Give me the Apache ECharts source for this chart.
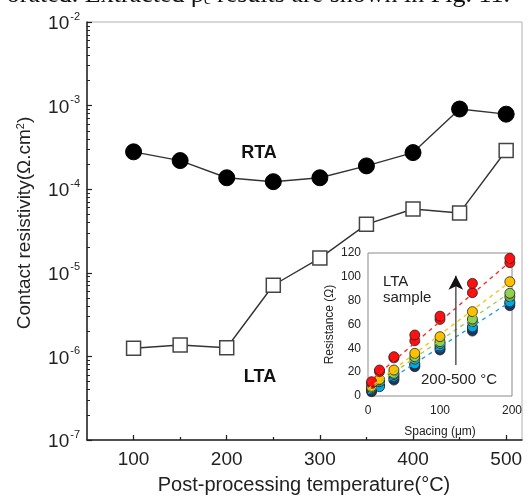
<!DOCTYPE html>
<html>
<head>
<meta charset="utf-8">
<script src="https://cdn.jsdelivr.net/npm/echarts@6/dist/echarts.min.js"></script>
<style>
  html, body { margin: 0; padding: 0; background: #fff; }
  #chart { width: 527px; height: 498px; }
</style>
</head>
<body>
<div id="chart"></div>
<script>
// Post-processing temperature (°C)
const temperatures = [100, 150, 200, 250, 300, 350, 400, 450, 500];
// Contact resistivity (Ω·cm²)
const rtaValues = [2.8e-4, 2.2e-4, 1.37e-4, 1.23e-4, 1.37e-4, 1.9e-4, 2.74e-4, 9.1e-4, 7.9e-4];
const ltaValues = [1.25e-6, 1.37e-6, 1.27e-6, 7.1e-6, 1.5e-5, 3.8e-5, 5.8e-5, 5.2e-5, 2.9e-4];

// Main axis ticks
const xMajorTicks = [100, 200, 300, 400, 500];
const xMinorTicks = [150, 250, 350, 450];
const yDecades = [1e-7, 1e-6, 1e-5, 1e-4, 1e-3, 1e-2];

// Inset: TLM resistance vs. spacing (LTA sample)
const spacing = [5, 16, 36, 65, 100, 145, 197];
const r200 = [3.6, 9, 13.4, 24.6, 38.6, 54.5, 75.8];
const r250 = [4.5, 10, 15, 26, 40, 56.8, 77.8];
const r300 = [5.5, 7.8, 16.5, 27, 42, 58, 79];
const r350 = [6.4, 12, 18, 31, 44, 62.4, 83.3];
const r400 = [7, 13.4, 19, 33, 45.6, 64.6, 86.2];
const r450 = [8, 14, 21.8, 35.8, 49.8, 70.8, 95.9];
const r500a = [10.6, 20.5, 32, 46.4, 64.3, 86.7, 111.9];
const r500b = [12, 21.8, 33, 51.2, 67, 94.5, 115.5];
// Dashed fit lines: resistance at spacing 0 and 200 µm
const fitSpan = [0, 200];
const fitRed = [11, 114];
const fitGold = [6, 97];
const fitGreen = [5, 88];
const fitBlue = [2, 80];
// Arrow (spacing, resistance) from tail to head
const arrowX = [122, 122];
const arrowY = [26, 101];

const pair = (xs, ys) => xs.map((x, i) => [x, ys[i]]);

// Minor log ticks 2..9 within each decade
const yMinor = [];
for (let d = 0; d < yDecades.length - 1; d++) {
  for (let k = 2; k <= 9; k++) yMinor.push(k * yDecades[d]);
}

const chart = echarts.init(document.getElementById('chart'));
const FONT = '"Liberation Sans", Arial, sans-serif';

function insetDots(vals, color, z) {
  return {
    type: 'scatter', xAxisIndex: 2, yAxisIndex: 2, z: z || 12,
    data: pair(spacing, vals), symbol: 'circle', symbolSize: 10,
    itemStyle: { color: color, borderColor: '#222', borderWidth: 0.8, opacity: 1 },
    silent: true
  };
}
function fitLine(vals, color) {
  return {
    type: 'line', xAxisIndex: 2, yAxisIndex: 2, z: 13,
    data: pair(fitSpan, vals), symbol: 'none',
    lineStyle: { color: color, width: 1.3, type: [4, 4] }, silent: true
  };
}

const option = {
  animation: false,
  backgroundColor: '#fff',
  grid: [
    { left: 87, top: 22, right: 5, bottom: 58, show: true, borderColor: '#b0b0b0', borderWidth: 1, backgroundColor: 'transparent' },
    { left: 87, top: 22, right: 5, bottom: 58 },
    { left: 368, top: 253, width: 144, height: 143, show: true, borderColor: '#8a8a8a', borderWidth: 1, backgroundColor: '#fff', z: 10 }
  ],
  xAxis: [
    {
      type: 'value', gridIndex: 0, min: 50, max: 517, interval: 50,
      axisLine: { show: true, lineStyle: { color: '#222', width: 1.5 } },
      axisTick: { show: true, inside: true, length: 5, customValues: xMajorTicks, lineStyle: { color: '#222', width: 1.3 } },
      axisLabel: { show: true, customValues: xMajorTicks, margin: 10, fontSize: 19, color: '#222', fontFamily: FONT },
      splitLine: { show: false }
    },
    {
      type: 'value', gridIndex: 1, min: 50, max: 517, interval: 50,
      axisLine: { show: false },
      axisTick: { show: true, inside: true, length: 3, customValues: xMinorTicks, lineStyle: { color: '#222', width: 1.3 } },
      axisLabel: { show: false },
      splitLine: { show: false }
    },
    {
      type: 'value', gridIndex: 2, min: 0, max: 200, interval: 100, z: 11,
      axisLine: { show: false },
      axisTick: { show: false },
      axisLabel: { fontSize: 12, color: '#222', margin: 9, fontFamily: FONT },
      splitLine: { show: false },
      name: 'Spacing (μm)', nameLocation: 'middle', nameGap: 30,
      nameTextStyle: { fontSize: 12, color: '#222', fontFamily: FONT }
    }
  ],
  yAxis: [
    {
      type: 'log', gridIndex: 0, min: 1e-7, max: 1e-2, logBase: 10,
      axisLine: { show: true, lineStyle: { color: '#222', width: 1.5 } },
      axisTick: { show: true, inside: true, length: 5, lineStyle: { color: '#222', width: 1.2 } },
      axisLabel: {
        margin: 7, color: '#222', fontFamily: FONT,
        formatter: v => '{b|10}{s|' + Math.round(Math.log10(v)) + '}',
        rich: {
          b: { fontSize: 19, fontFamily: FONT, color: '#222', lineHeight: 22, padding: [4, 0, 0, 0] },
          s: { fontSize: 11, fontFamily: FONT, color: '#222', verticalAlign: 'top', lineHeight: 12, padding: [0, 0, 6, 1] }
        }
      },
      splitLine: { show: false }
    },
    {
      type: 'log', gridIndex: 1, min: 1e-7, max: 1e-2, logBase: 10,
      axisLine: { show: false },
      axisTick: { show: true, inside: true, length: 3, customValues: yMinor, lineStyle: { color: '#222', width: 1 } },
      axisLabel: { show: false },
      splitLine: { show: false }
    },
    {
      type: 'value', gridIndex: 2, min: 0, max: 120, interval: 20, z: 11,
      axisLine: { show: false },
      axisTick: { show: false },
      axisLabel: { fontSize: 12, color: '#222', margin: 7, fontFamily: FONT },
      splitLine: { show: false },
      name: 'Resistance (Ω)', nameLocation: 'middle', nameGap: 32,
      nameTextStyle: { fontSize: 12, color: '#222', fontFamily: FONT }
    }
  ],
  series: [
    {
      name: 'RTA', type: 'line', xAxisIndex: 0, yAxisIndex: 0,
      data: pair(temperatures, rtaValues), symbol: 'circle', symbolSize: 16,
      lineStyle: { color: '#333', width: 1.4 },
      itemStyle: { color: '#000', borderColor: '#000', borderWidth: 1 }
    },
    {
      name: 'LTA', type: 'line', xAxisIndex: 0, yAxisIndex: 0,
      data: pair(temperatures, ltaValues), symbol: 'rect', symbolSize: 14,
      lineStyle: { color: '#333', width: 1.4 },
      itemStyle: { color: '#fff', borderColor: '#444', borderWidth: 1.5 }
    },
    insetDots(r200, '#1f3864'),
    insetDots(r250, '#0060b0'),
    insetDots(r300, '#00a8e8'),
    insetDots(r350, '#70ad47'),
    insetDots(r400, '#92d050'),
    insetDots(r450, '#ffc000'),
    insetDots(r500a, '#ff1010'),
    insetDots(r500b, '#ff1010'),
    fitLine(fitBlue, '#1a9ae0'),
    fitLine(fitGreen, '#92d050'),
    fitLine(fitGold, '#ffc000'),
    fitLine(fitRed, '#ff2020'),
    {
      type: 'line', xAxisIndex: 2, yAxisIndex: 2, z: 14, silent: true,
      data: [
        { value: [arrowX[0], arrowY[0]], symbol: 'none' },
        { value: [arrowX[1], arrowY[1]], symbol: 'arrow', symbolSize: [11, 14] }
      ],
      showSymbol: true,
      lineStyle: { color: '#555', width: 1.5 },
      itemStyle: { color: '#111' }
    }
  ],
  graphic: [
    {
      type: 'text', x: 510, y: -5, z: 20,
      style: {
        text: 'orated. Extracted ρ{c|c} results are shown in Fig. 11.',
        fontSize: 26, fontFamily: '"Liberation Serif", "Times New Roman", serif', fill: '#111',
        align: 'right', verticalAlign: 'middle',
        rich: { c: { fontSize: 15, fontFamily: '"Liberation Serif", serif', fill: '#111', verticalAlign: 'bottom', padding: [10, 0, 0, 0] } }
      }
    },
    {
      type: 'text', x: 25, y: 223, rotation: Math.PI / 2, z: 20,
      style: {
        text: 'Contact resistivity(Ω.cm{sup|2})', fontSize: 19, fontFamily: FONT, fill: '#222',
        align: 'center', verticalAlign: 'middle',
        rich: { sup: { fontSize: 11, fontFamily: FONT, fill: '#222', verticalAlign: 'top', padding: [0, 0, 6, 0] } }
      }
    },
    {
      type: 'text', x: 304, y: 485, z: 20,
      style: { text: 'Post-processing temperature(°C)', fontSize: 20, fontFamily: FONT, fill: '#222', align: 'center', verticalAlign: 'middle' }
    },
    {
      type: 'text', x: 259, y: 153, z: 20,
      style: { text: 'RTA', fontSize: 18, fontWeight: 'bold', fontFamily: FONT, fill: '#111', align: 'center', verticalAlign: 'middle' }
    },
    {
      type: 'text', x: 260, y: 377, z: 20,
      style: { text: 'LTA', fontSize: 18, fontWeight: 'bold', fontFamily: FONT, fill: '#111', align: 'center', verticalAlign: 'middle' }
    },
    {
      type: 'text', x: 383, y: 290, z: 30,
      style: { text: 'LTA\nsample', fontSize: 15, lineHeight: 16, fontFamily: FONT, fill: '#222', align: 'left', verticalAlign: 'middle' }
    },
    {
      type: 'text', x: 459, y: 380, z: 30,
      style: { text: '200-500 °C', fontSize: 15, fontFamily: FONT, fill: '#222', align: 'center', verticalAlign: 'middle' }
    }
  ]
};

chart.setOption(option);
</script>
</body>
</html>
